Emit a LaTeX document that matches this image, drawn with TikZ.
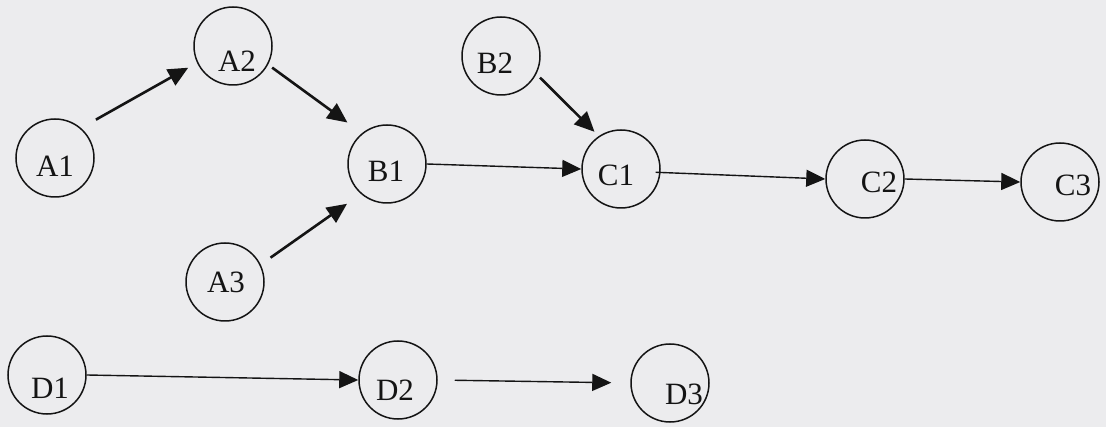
\documentclass[tikz,border=0pt]{standalone}
\usepackage{fontspec}
\setmainfont{Liberation Serif}
\usetikzlibrary{arrows.meta}
\definecolor{paper}{RGB}{236,236,238}
\definecolor{ink}{RGB}{20,20,20}
\begin{document}
\begin{tikzpicture}[x=1pt,y=-1pt,
  state/.style={circle,draw=ink,line width=1.5pt,minimum size=78pt,inner sep=0pt},
  lbl/.style={inner sep=0pt,font=\fontsize{31}{34}\selectfont,text=ink},
  heavy/.style={draw=ink,line width=2.6pt,-{Triangle[length=20pt,width=18pt]}},
  light/.style={draw=ink,line width=1.4pt,-{Triangle[length=19pt,width=17pt]}}]
\fill[paper] (0,0) rectangle (1106,427);
\useasboundingbox (0,0) rectangle (1106,427);
% circles
\node[state] (A1) at (55,158) {};
\node[state] (A2) at (233,46) {};
\node[state] (A3) at (225,282) {};
\node[state] (B1) at (387,164) {};
\node[state] (B2) at (501,56) {};
\node[state] (C1) at (621,169) {};
\node[state] (C2) at (865,179) {};
\node[state] (C3) at (1060,182) {};
\node[state] (D1) at (47,375) {};
\node[state] (D2) at (398,380) {};
\node[state] (D3) at (670,383) {};
% labels
\node[lbl] (A1t) at (55,166) {A1};
\node[lbl] (A2t) at (237,61) {A2};
\node[lbl] (A3t) at (226,282) {A3};
\node[lbl] (B1t) at (386,171) {B1};
\node[lbl] (B2t) at (495,63) {B2};
\node[lbl] (C1t) at (616,175) {C1};
\node[lbl] (C2t) at (879,182) {C2};
\node[lbl] (C3t) at (1073,185) {C3};
\node[lbl] (D1t) at (50,388) {D1};
\node[lbl] (D2t) at (395,390) {D2};
\node[lbl] (D3t) at (684,394) {D3};
% connectors
\draw[heavy,shorten <=17pt,shorten >=10pt] (A1.49) -- (A2.205);
\draw[heavy,shorten <=5pt,shorten >=18pt] (A2.-28) -- (B1.129);
\draw[heavy,shorten <=12pt,shorten >=17pt] (A3.26) -- (B1.229);
\draw[heavy,shorten <=5pt,shorten >=6pt] (B2.-27) -- (C1.124);
\draw[light] (B1.0) -- (C1.180);
\draw[light,shorten <=-5pt] (C1.-5) -- (C2.180);
\draw[light] (C2.0) -- (C3.180);
\draw[light] (D1.0) -- (D2.180);
\draw[light,shorten <=17pt,shorten >=19pt] (D2.0) -- (D3.180);
\end{tikzpicture}
\end{document}
